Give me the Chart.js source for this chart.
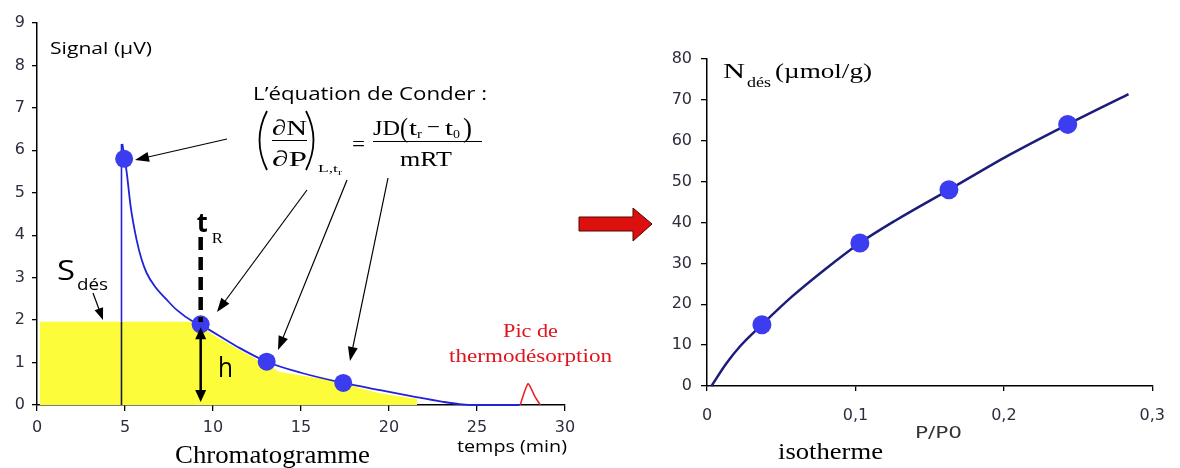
<!DOCTYPE html>
<html><head><meta charset="utf-8">
<script src="https://cdn.jsdelivr.net/npm/chart.js@4"></script>
<style>
html,body{margin:0;padding:0;background:#fff;width:1180px;height:468px;overflow:hidden}
canvas{position:absolute;left:0;top:0}
</style></head>
<body>
<canvas id="c1" width="1180" height="468"></canvas>
<canvas id="c2" width="1180" height="468"></canvas>
<script>
// ---------- Chromatogramme data ----------
const chromCurveT = [4.85, 5.1, 5.32, 5.66, 5.95, 6.23, 6.7, 7.37, 7.94, 8.88, 9.36, 11.35, 13.05, 15.0, 17.4, 19.5, 21.4, 23.0, 24.0, 25.0, 27.4];
const chromCurveS = [6.15, 5.47, 4.68, 3.89, 3.42, 3.11, 2.79, 2.48, 2.24, 1.96, 1.87, 1.38, 1.02, 0.76, 0.52, 0.35, 0.2, 0.08, 0.02, 0.0, 0.0];
const peakRiseT = [4.8, 4.8];
const peakRiseS = [0, 6.15];
const peakRiseInAreaS = [0, 1.96];
const areaT = [0.15, 0.15, 9.3, 9.8, 11.7, 13.8, 16.6, 17.4, 19.4, 21.1, 21.6, 21.6];
const areaS = [0, 1.96, 1.96, 1.7, 1.25, 0.78, 0.59, 0.5, 0.28, 0.17, 0.15, 0];
const thermoT = [27.45, 27.9, 28.3, 28.6];
const thermoS = [0, 0.5, 0.19, 0];
const markT = [4.95, 9.3, 13.05, 17.4];
const markS = [5.8, 1.9, 1.02, 0.52];
const chromXTicks = [0, 5, 10, 15, 20, 25, 30];
const chromYTicks = [0, 1, 2, 3, 4, 5, 6, 7, 8, 9];

// ---------- Isotherme data ----------
const isoP = [0.003, 0.013, 0.022, 0.037, 0.057, 0.079, 0.103, 0.127, 0.163, 0.204, 0.243, 0.284];
const isoN = [0, 5.5, 9.6, 15, 21.8, 28.4, 35, 40.5, 48, 56.6, 64, 71.4];
const isoMarkP = [0.037, 0.103, 0.163, 0.243];
const isoMarkN = [15, 35, 48, 64];
const isoXTicks = [0, 0.1, 0.2, 0.3];
const isoXLabels = ['0', '0,1', '0,2', '0,3'];
const isoYTicks = [0, 10, 20, 30, 40, 50, 60, 70, 80];

const zip = (xs, ys) => xs.map((x, i) => ({x: x, y: ys[i]}));
const COMIC = '"Open Sans"';
const SERIF = '"Liberation Serif"';
const TICKFONT = 'DejaVu Sans';

function txt(ctx, s, x, base, size, fam, w, o) {
  o = o || {};
  ctx.save();
  ctx.font = (o.weight || 'normal') + ' ' + size + 'px ' + fam;
  ctx.fillStyle = o.color || '#000';
  ctx.textBaseline = 'alphabetic';
  ctx.textAlign = 'left';
  const m = ctx.measureText(s).width;
  const sx = w ? w / m : 1;
  ctx.translate(x, base);
  ctx.scale(sx, 1);
  ctx.fillText(s, 0, 0);
  ctx.restore();
}
function head(ctx, x1, y1, x2, y2, len, wid) {
  const a = Math.atan2(y2 - y1, x2 - x1);
  const c = Math.cos(a), s = Math.sin(a);
  ctx.beginPath();
  ctx.moveTo(x2, y2);
  ctx.lineTo(x2 - len * c + wid / 2 * s, y2 - len * s - wid / 2 * c);
  ctx.lineTo(x2 - len * c - wid / 2 * s, y2 - len * s + wid / 2 * c);
  ctx.closePath();
  ctx.fill();
}
function arrow(ctx, x1, y1, x2, y2, lw, len, wid) {
  const a = Math.atan2(y2 - y1, x2 - x1);
  ctx.save();
  ctx.strokeStyle = '#000'; ctx.fillStyle = '#000'; ctx.lineWidth = lw;
  ctx.beginPath();
  ctx.moveTo(x1, y1);
  ctx.lineTo(x2 - len * 0.8 * Math.cos(a), y2 - len * 0.8 * Math.sin(a));
  ctx.stroke();
  head(ctx, x1, y1, x2, y2, len, wid);
  ctx.restore();
}

const leftAnno = {
  id: 'leftAnno',
  afterDraw(chart) {
    const ctx = chart.ctx;
    const sx = chart.scales.x, sy = chart.scales.y;
    txt(ctx, 'Signal (µV)', 50, 54, 17, COMIC, 102);
    txt(ctx, 'L’équation de Conder :', 253, 100, 19, COMIC, 234);
    // equation
    ctx.save();
    ctx.strokeStyle = '#000'; ctx.lineWidth = 1.8;
    ctx.beginPath(); ctx.moveTo(267, 111); ctx.quadraticCurveTo(252, 140, 267, 170); ctx.stroke();
    ctx.beginPath(); ctx.moveTo(306, 111); ctx.quadraticCurveTo(321, 140, 306, 170); ctx.stroke();
    ctx.lineWidth = 1;
    ctx.beginPath(); ctx.moveTo(272, 140.5); ctx.lineTo(307, 140.5); ctx.stroke();
    ctx.beginPath(); ctx.moveTo(373, 141.5); ctx.lineTo(482, 141.5); ctx.stroke();
    ctx.restore();
    txt(ctx, '∂N', 272, 135, 22, SERIF, 35);
    txt(ctx, '∂P', 272, 166, 22, SERIF, 35);
    txt(ctx, 'L,t', 318, 172, 11, SERIF, 20);
    txt(ctx, 'r', 338, 175, 8, SERIF, 4);
    txt(ctx, '=', 352, 151, 22, SERIF, 13);
    txt(ctx, 'JD', 373, 135, 22, SERIF, 27);
    txt(ctx, '(', 400, 137, 27, SERIF, 8);
    txt(ctx, 't', 409, 135, 22, SERIF, 8);
    txt(ctx, 'r', 417, 138, 12, SERIF, 5);
    txt(ctx, '−', 427, 134, 22, SERIF, 13);
    txt(ctx, 't', 445, 135, 22, SERIF, 8);
    txt(ctx, '0', 453, 138, 13, SERIF, 7);
    txt(ctx, ')', 463, 137, 27, SERIF, 9);
    txt(ctx, 'mRT', 400, 166, 22, SERIF, 52);
    // S_des
    txt(ctx, 'S', 57, 280, 28, COMIC, 18);
    txt(ctx, 'dés', 77, 290, 17, COMIC, 31);
    arrow(ctx, 93, 293, 103, 320, 1.2, 12, 9);
    // t_R dashed
    const xR = sx.getPixelForValue(markT[1]);
    txt(ctx, 't', xR - 4, 232, 26, COMIC, 11, {weight: 'bold'});
    txt(ctx, 'R', xR + 11, 243, 15, SERIF, 11);
    ctx.save();
    ctx.strokeStyle = '#000'; ctx.lineWidth = 4.5; ctx.setLineDash([13, 7]);
    ctx.beginPath(); ctx.moveTo(xR, 237); ctx.lineTo(xR, 322); ctx.stroke();
    ctx.restore();
    // h double arrow
    const yTop = sy.getPixelForValue(markS[1]) + 3;
    const yBot = sy.getPixelForValue(0) - 3;
    ctx.save();
    ctx.strokeStyle = '#000'; ctx.fillStyle = '#000'; ctx.lineWidth = 2.5;
    ctx.beginPath(); ctx.moveTo(xR, yTop + 9); ctx.lineTo(xR, yBot - 9); ctx.stroke();
    head(ctx, xR, yBot, xR, yTop, 12, 11);
    head(ctx, xR, yTop, xR, yBot, 12, 11);
    ctx.restore();
    txt(ctx, 'h', 218, 377, 28, COMIC, 15);
    // pointer arrows
    arrow(ctx, 227, 139, 135, 160, 1.2, 14, 10);
    arrow(ctx, 307, 190, 217, 312, 1.2, 14, 10);
    arrow(ctx, 347, 180, 278, 350, 1.2, 14, 10);
    arrow(ctx, 388, 178, 350, 361, 1.2, 14, 10);
    // texts
    txt(ctx, 'Pic de', 503, 337, 19, SERIF, 55, {color: '#e0141e'});
    txt(ctx, 'thermodésorption', 449, 362, 19, SERIF, 163, {color: '#e0141e'});
    txt(ctx, 'temps (min)', 457, 452, 16, COMIC, 110);
    txt(ctx, 'Chromatogramme', 175, 463, 25, SERIF, 195);
  }
};

const rightAnno = {
  id: 'rightAnno',
  afterDraw(chart) {
    const ctx = chart.ctx;
    // red arrow
    ctx.save();
    ctx.fillStyle = '#dd1010'; ctx.strokeStyle = '#5a0000'; ctx.lineWidth = 1;
    ctx.beginPath();
    ctx.moveTo(579, 217); ctx.lineTo(633, 217); ctx.lineTo(633, 208); ctx.lineTo(652, 224);
    ctx.lineTo(633, 241); ctx.lineTo(633, 231); ctx.lineTo(579, 231); ctx.closePath();
    ctx.fill(); ctx.stroke();
    ctx.restore();
    txt(ctx, 'N', 723, 78, 21, SERIF, 22);
    txt(ctx, 'dés', 747, 87, 14, SERIF, 24);
    txt(ctx, '(µmol/g)', 775, 78, 21, SERIF, 97);
    txt(ctx, 'P/P0', 915, 438, 16, '"DejaVu Sans"', 47, {color: '#333'});
    txt(ctx, 'isotherme', 778, 459, 24, SERIF, 105);
  }
};

function axisCommon(tl, pad) {
  return {
    grid: {display: true, drawOnChartArea: false, drawTicks: true, tickLength: tl, color: '#000', lineWidth: 1.3},
    border: {display: true, color: '#000', width: 1.5},
    ticks: {font: {family: TICKFONT, size: 16}, color: '#2d2d3d', padding: pad, maxRotation: 0, autoSkip: false}
  };
}

const lx = axisCommon(6, 7);
lx.type = 'linear'; lx.min = 0; lx.max = 30;
lx.afterFit = s => { s.height = 63; };
lx.afterBuildTicks = s => { s.ticks = chromXTicks.map(v => ({value: v})); };
const ly = axisCommon(5, 7);
ly.type = 'linear'; ly.min = 0; ly.max = 9;
ly.afterFit = s => { s.width = 37; };
ly.afterBuildTicks = s => { s.ticks = chromYTicks.map(v => ({value: v})); };

new Chart(document.getElementById('c1'), {
  type: 'scatter',
  data: {
    datasets: [
      {data: zip(markT, markS), showLine: false, pointRadius: 9, pointBackgroundColor: '#3b3bef', pointBorderWidth: 0, order: 1, clip: false},
      {data: zip(chromCurveT, chromCurveS), showLine: true, borderColor: '#2222d8', borderWidth: 1.8, pointRadius: 0, cubicInterpolationMode: 'monotone', order: 2, clip: false},
      {data: zip(thermoT, thermoS), showLine: true, borderColor: '#e82020', borderWidth: 1.5, pointRadius: 0, tension: 0.2, order: 2, clip: false},
      {data: zip(peakRiseT, peakRiseInAreaS), showLine: true, borderColor: '#1a1a40', borderWidth: 1.6, pointRadius: 0, order: 3},
      {data: zip(areaT, areaS), showLine: true, borderWidth: 0, borderColor: 'rgba(0,0,0,0)', backgroundColor: '#fcfc3a', fill: 'origin', pointRadius: 0, order: 4},
      {data: zip(peakRiseT, peakRiseS), showLine: true, borderColor: '#2222d8', borderWidth: 1.6, pointRadius: 0, order: 5}
    ]
  },
  options: {
    responsive: false, animation: false, events: [],
    layout: {padding: {left: 0, top: 23, right: 615, bottom: 0}},
    plugins: {legend: {display: false}, tooltip: {enabled: false}},
    scales: {x: lx, y: ly}
  },
  plugins: [leftAnno]
});

const rx = axisCommon(5, 15);
rx.type = 'linear'; rx.min = 0; rx.max = 0.3;
rx.afterFit = s => { s.height = 82; };
rx.afterBuildTicks = s => { s.ticks = isoXTicks.map(v => ({value: v})); };
rx.ticks.callback = (v, i) => isoXLabels[i];
const ry = axisCommon(6, 9);
ry.type = 'linear'; ry.min = 0; ry.max = 80;
ry.afterFit = s => { s.width = 40; };
ry.afterBuildTicks = s => { s.ticks = isoYTicks.map(v => ({value: v})); };

new Chart(document.getElementById('c2'), {
  type: 'scatter',
  data: {
    datasets: [
      {data: zip(isoMarkP, isoMarkN), showLine: false, pointRadius: 9.5, pointBackgroundColor: '#3c3cf0', pointBorderWidth: 0, order: 1, clip: false},
      {data: zip(isoP, isoN), showLine: true, borderColor: '#1c1c7a', borderWidth: 2.5, pointRadius: 0, cubicInterpolationMode: 'monotone', order: 2, clip: false}
    ]
  },
  options: {
    responsive: false, animation: false, events: [],
    layout: {padding: {left: 667, top: 59, right: 16, bottom: 0}},
    plugins: {legend: {display: false}, tooltip: {enabled: false}},
    scales: {x: rx, y: ry}
  },
  plugins: [rightAnno]
});
</script>
</body></html>
